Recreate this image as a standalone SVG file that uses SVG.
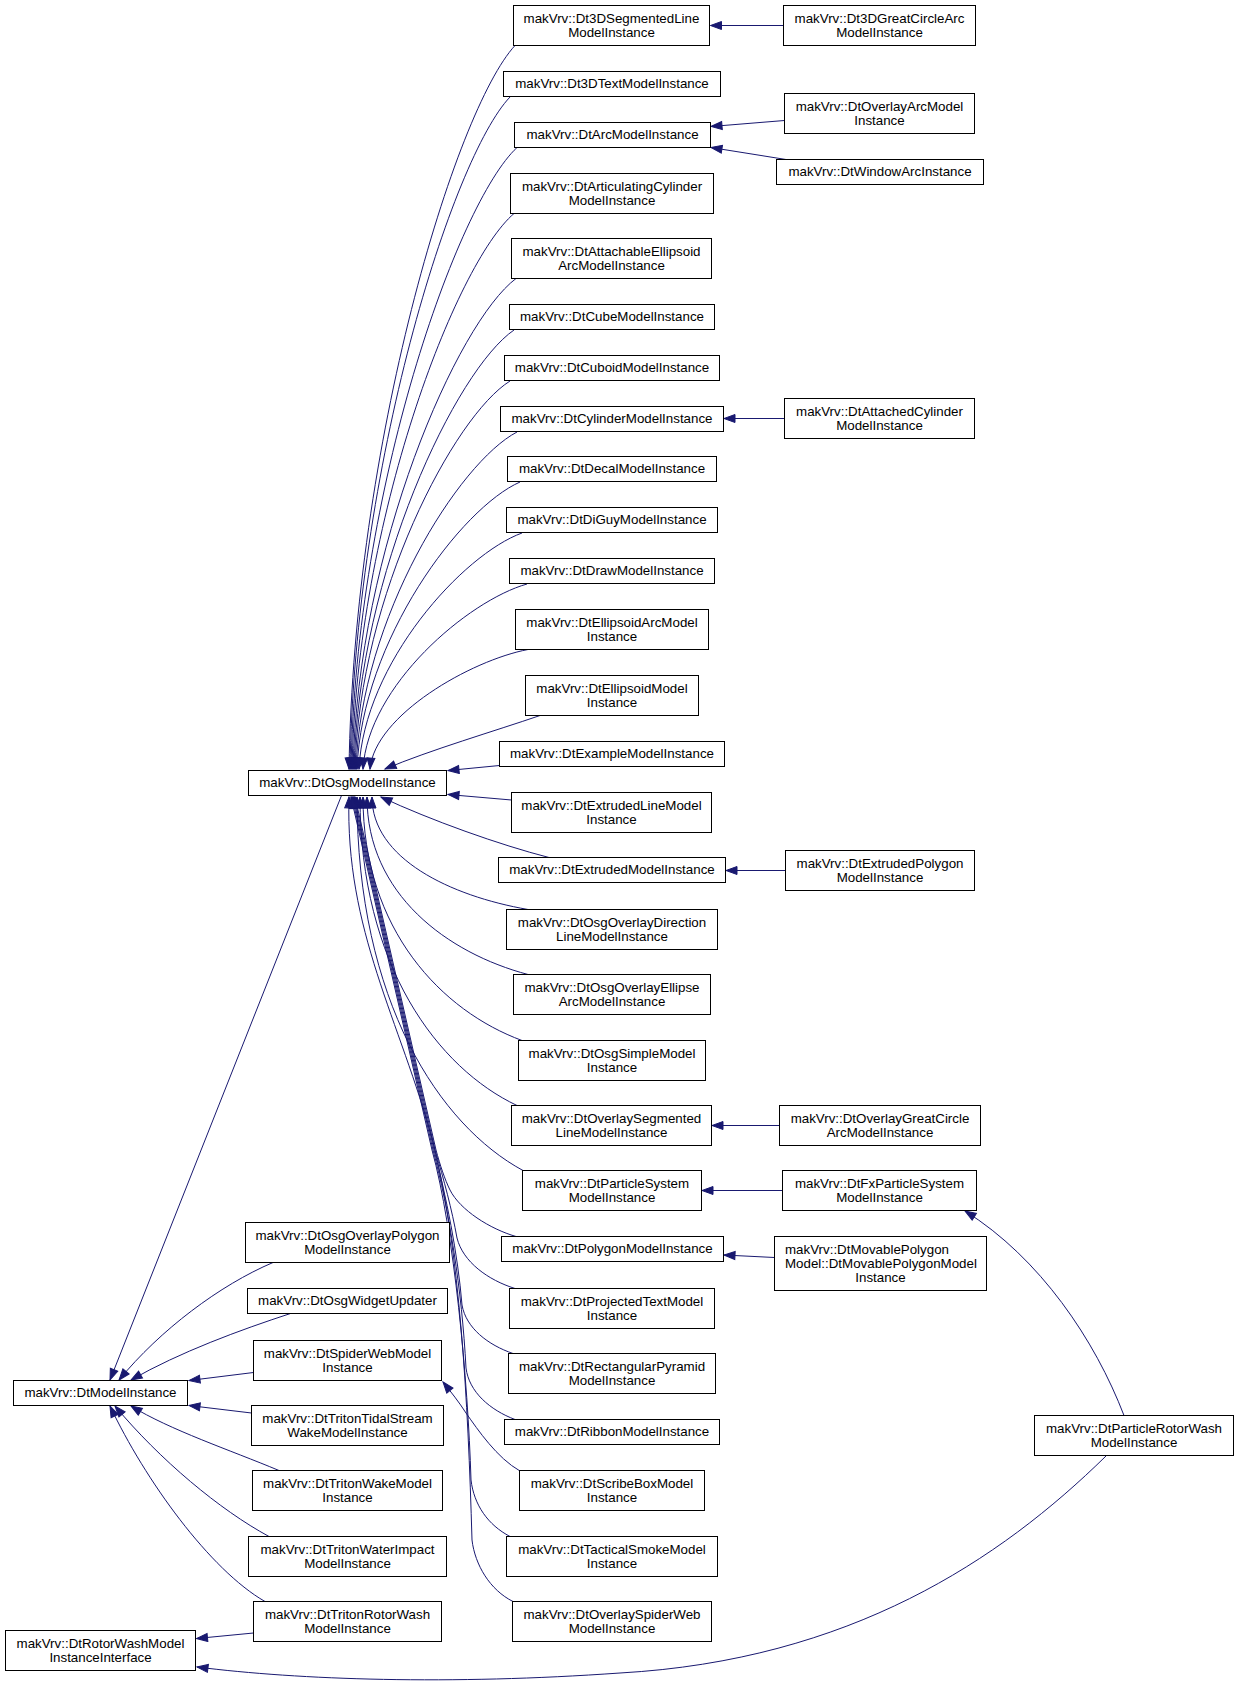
<svg xmlns="http://www.w3.org/2000/svg" width="1237" height="1689" viewBox="0 0 1237 1689">
<defs>
<style>
.node rect{fill:#fff;stroke:#000;stroke-width:1}
.node text{font-family:"Liberation Sans",Arial,sans-serif;font-size:13.33px;text-anchor:middle;fill:#000}
.node text.l{text-anchor:start}
.edges path{fill:none;stroke:#191970;stroke-width:1;marker-end:url(#arr)}
</style>
<marker id="arr" markerUnits="userSpaceOnUse" markerWidth="14" markerHeight="10" refX="11" refY="4" orient="auto" overflow="visible">
<path d="M0,0 L11,4 L0,8 z" fill="#191970" stroke="#191970" stroke-width="1"/>
</marker>
</defs>
<rect x="0" y="0" width="1237" height="1689" fill="#fff"/>
<g class="edges">
<path d="M515,45.5 C455.2,110.6 354,443.4 349,769"/>
<path d="M510,97 C452.4,157.5 354.8,466.6 350,769"/>
<path d="M517,147.5 C457.2,203.4 356,489.3 351,769"/>
<path d="M514,213.5 C455.7,263.5 356.9,519 352,769"/>
<path d="M516,278.5 C457.3,322.6 357.9,548.3 353,769"/>
<path d="M514,330 C456.4,369.5 358.8,571.5 354,769"/>
<path d="M510,381 C454.2,415.9 359.7,594.4 355,769"/>
<path d="M517,432 C459,462.3 360.8,617.4 356,769"/>
<path d="M520,482 C461.3,507.8 361.9,639.9 357,769"/>
<path d="M522,533 C463.3,554.2 363.9,662.8 359,769"/>
<path d="M527,584 C468,600.7 367.9,685.8 363,769"/>
<path d="M528,649.5 C471.1,660.3 374.7,715.2 370,769"/>
<path d="M540,715.5 C495,731 430,750 385,769"/>
<path d="M499.5,765.5 L448,770.5"/>
<path d="M511.5,800 L448,794.5"/>
<path d="M549,857.5 C500,845 430,820 381,797"/>
<path d="M528,909.5 C450,895.9 372,858.4 372,797"/>
<path d="M528,974.5 C447.5,953.1 367,894.2 367,797"/>
<path d="M522,1040.5 C442.5,1011.2 363,930.5 363,797"/>
<path d="M517,1105.5 C438.5,1068.4 360,966.2 360,797"/>
<path d="M523,1170.5 C440,1125.6 357,1002 357,797"/>
<path d="M516,1236.5 C490,1229 460,1210 450,1190 C445,1180 440,1165 436,1150 L355,797"/>
<path d="M515,1288.5 C488,1280 463,1262 457,1238 C452,1210 444,1180 435,1150 L354,797"/>
<path d="M513,1353.5 C488,1345 466,1328 462,1305 C458,1255 446,1195 434,1150 L353,797"/>
<path d="M515,1419.5 C490,1410 469,1392 466,1368 C462,1290 449,1210 433,1150 L352,797"/>
<path d="M510,1536.5 C488,1525 474,1505 471,1480 C468,1380 454,1230 432,1150 L351,797"/>
<path d="M513,1601.5 C490,1590 475,1565 472,1540 C468,1400 460,1250 433,1142 C400,1020 345,930 349,797"/>
<path d="M520,1471 C497,1458 478,1430 466,1413 C459,1402 451,1392 443,1382"/>
<path d="M341.5,795.5 L110,1380"/>
<path d="M273,1262.5 C220,1285 160,1330 119,1380"/>
<path d="M290.5,1313.5 C240,1330 180,1352 131,1380"/>
<path d="M253.5,1372.5 L189,1380.5"/>
<path d="M251.5,1413 L189,1405.5"/>
<path d="M279,1470.5 C230,1450 170,1430 131,1406"/>
<path d="M269,1536.5 C220,1510 160,1460 115,1406"/>
<path d="M265,1601.5 C210,1570 145,1480 110,1406"/>
<path d="M253.5,1633 L196.5,1638.5"/>
<path d="M783.5,25.5 L710.5,25.5"/>
<path d="M784.5,120.5 L711,126.5"/>
<path d="M786,159.5 L711,147.5"/>
<path d="M784.5,418.5 L724,418.5"/>
<path d="M785.5,870.5 L726,870.5"/>
<path d="M779.5,1125.5 L712,1125.5"/>
<path d="M782.5,1190.5 L702,1190.5"/>
<path d="M774.5,1257.5 L724,1255"/>
<path d="M1124,1415.5 C1095,1340 1040,1258 965,1211"/>
<path d="M1106,1456 C1000,1560 850,1660 620,1673 C450,1685 300,1680 197,1667"/>
</g>
<g id="n3DSeg" class="node"><rect x="513.5" y="5.5" width="196" height="40"/><text x="611.5" y="22.5">makVrv::Dt3DSegmentedLine</text><text x="611.5" y="36.5">ModelInstance</text></g>
<g id="n3DGreat" class="node"><rect x="783.5" y="5.5" width="192" height="40"/><text x="879.5" y="22.5">makVrv::Dt3DGreatCircleArc</text><text x="879.5" y="36.5">ModelInstance</text></g>
<g id="n3DText" class="node"><rect x="503.5" y="71.5" width="217" height="25"/><text x="612" y="88">makVrv::Dt3DTextModelInstance</text></g>
<g id="nArc" class="node"><rect x="514.5" y="122.5" width="196" height="25"/><text x="612.5" y="139">makVrv::DtArcModelInstance</text></g>
<g id="nOverlayArc" class="node"><rect x="784.5" y="93.5" width="190" height="40"/><text x="879.5" y="110.5">makVrv::DtOverlayArcModel</text><text x="879.5" y="124.5">Instance</text></g>
<g id="nWindowArc" class="node"><rect x="776.5" y="159.5" width="207" height="25"/><text x="880" y="176">makVrv::DtWindowArcInstance</text></g>
<g id="nArticulating" class="node"><rect x="510.5" y="173.5" width="203" height="40"/><text x="612" y="190.5">makVrv::DtArticulatingCylinder</text><text x="612" y="204.5">ModelInstance</text></g>
<g id="nAttachable" class="node"><rect x="511.5" y="238.5" width="200" height="40"/><text x="611.5" y="255.5">makVrv::DtAttachableEllipsoid</text><text x="611.5" y="269.5">ArcModelInstance</text></g>
<g id="nCube" class="node"><rect x="509.5" y="304.5" width="205" height="25"/><text x="612" y="321">makVrv::DtCubeModelInstance</text></g>
<g id="nCuboid" class="node"><rect x="504.5" y="355.5" width="215" height="25"/><text x="612" y="372">makVrv::DtCuboidModelInstance</text></g>
<g id="nCylinder" class="node"><rect x="500.5" y="406.5" width="223" height="25"/><text x="612" y="423">makVrv::DtCylinderModelInstance</text></g>
<g id="nAttachedCyl" class="node"><rect x="784.5" y="398.5" width="190" height="40"/><text x="879.5" y="415.5">makVrv::DtAttachedCylinder</text><text x="879.5" y="429.5">ModelInstance</text></g>
<g id="nDecal" class="node"><rect x="507.5" y="456.5" width="209" height="25"/><text x="612" y="473">makVrv::DtDecalModelInstance</text></g>
<g id="nDiGuy" class="node"><rect x="506.5" y="507.5" width="211" height="25"/><text x="612" y="524">makVrv::DtDiGuyModelInstance</text></g>
<g id="nDraw" class="node"><rect x="509.5" y="558.5" width="205" height="25"/><text x="612" y="575">makVrv::DtDrawModelInstance</text></g>
<g id="nEllArc" class="node"><rect x="515.5" y="609.5" width="193" height="40"/><text x="612" y="626.5">makVrv::DtEllipsoidArcModel</text><text x="612" y="640.5">Instance</text></g>
<g id="nEllModel" class="node"><rect x="525.5" y="675.5" width="173" height="40"/><text x="612" y="692.5">makVrv::DtEllipsoidModel</text><text x="612" y="706.5">Instance</text></g>
<g id="nExample" class="node"><rect x="499.5" y="741.5" width="225" height="25"/><text x="612" y="758">makVrv::DtExampleModelInstance</text></g>
<g id="nOsg" class="node"><rect x="248.5" y="770.5" width="198" height="25"/><text x="347.5" y="787">makVrv::DtOsgModelInstance</text></g>
<g id="nExtrudedLine" class="node"><rect x="511.5" y="792.5" width="200" height="40"/><text x="611.5" y="809.5">makVrv::DtExtrudedLineModel</text><text x="611.5" y="823.5">Instance</text></g>
<g id="nExtruded" class="node"><rect x="498.5" y="857.5" width="227" height="25"/><text x="612" y="874">makVrv::DtExtrudedModelInstance</text></g>
<g id="nExtrudedPoly" class="node"><rect x="785.5" y="850.5" width="189" height="40"/><text x="880" y="867.5">makVrv::DtExtrudedPolygon</text><text x="880" y="881.5">ModelInstance</text></g>
<g id="nOsgDir" class="node"><rect x="506.5" y="909.5" width="211" height="40"/><text x="612" y="926.5">makVrv::DtOsgOverlayDirection</text><text x="612" y="940.5">LineModelInstance</text></g>
<g id="nOsgEll" class="node"><rect x="513.5" y="974.5" width="197" height="40"/><text x="612" y="991.5">makVrv::DtOsgOverlayEllipse</text><text x="612" y="1005.5">ArcModelInstance</text></g>
<g id="nOsgSimple" class="node"><rect x="518.5" y="1040.5" width="187" height="40"/><text x="612" y="1057.5">makVrv::DtOsgSimpleModel</text><text x="612" y="1071.5">Instance</text></g>
<g id="nOverlaySeg" class="node"><rect x="511.5" y="1105.5" width="200" height="40"/><text x="611.5" y="1122.5">makVrv::DtOverlaySegmented</text><text x="611.5" y="1136.5">LineModelInstance</text></g>
<g id="nOverlayGreat" class="node"><rect x="779.5" y="1105.5" width="201" height="40"/><text x="880" y="1122.5">makVrv::DtOverlayGreatCircle</text><text x="880" y="1136.5">ArcModelInstance</text></g>
<g id="nParticleSys" class="node"><rect x="522.5" y="1170.5" width="179" height="40"/><text x="612" y="1187.5">makVrv::DtParticleSystem</text><text x="612" y="1201.5">ModelInstance</text></g>
<g id="nFxParticle" class="node"><rect x="782.5" y="1170.5" width="194" height="40"/><text x="879.5" y="1187.5">makVrv::DtFxParticleSystem</text><text x="879.5" y="1201.5">ModelInstance</text></g>
<g id="nPolygon" class="node"><rect x="501.5" y="1236.5" width="222" height="25"/><text x="612.5" y="1253">makVrv::DtPolygonModelInstance</text></g>
<g id="nMovable" class="node"><rect x="774.5" y="1236.5" width="212" height="54"/><text class="l" x="785" y="1253.5">makVrv::DtMovablePolygon</text><text class="l" x="785" y="1267.5">Model::DtMovablePolygonModel</text><text x="880.5" y="1281.5">Instance</text></g>
<g id="nOsgOverlayPoly" class="node"><rect x="245.5" y="1222.5" width="204" height="40"/><text x="347.5" y="1239.5">makVrv::DtOsgOverlayPolygon</text><text x="347.5" y="1253.5">ModelInstance</text></g>
<g id="nWidget" class="node"><rect x="247.5" y="1288.5" width="200" height="25"/><text x="347.5" y="1305">makVrv::DtOsgWidgetUpdater</text></g>
<g id="nSpider" class="node"><rect x="253.5" y="1340.5" width="188" height="40"/><text x="347.5" y="1357.5">makVrv::DtSpiderWebModel</text><text x="347.5" y="1371.5">Instance</text></g>
<g id="nModel" class="node"><rect x="13.5" y="1380.5" width="174" height="25"/><text x="100.5" y="1397">makVrv::DtModelInstance</text></g>
<g id="nTidal" class="node"><rect x="251.5" y="1405.5" width="192" height="40"/><text x="347.5" y="1422.5">makVrv::DtTritonTidalStream</text><text x="347.5" y="1436.5">WakeModelInstance</text></g>
<g id="nWake" class="node"><rect x="252.5" y="1470.5" width="190" height="40"/><text x="347.5" y="1487.5">makVrv::DtTritonWakeModel</text><text x="347.5" y="1501.5">Instance</text></g>
<g id="nImpact" class="node"><rect x="248.5" y="1536.5" width="198" height="40"/><text x="347.5" y="1553.5">makVrv::DtTritonWaterImpact</text><text x="347.5" y="1567.5">ModelInstance</text></g>
<g id="nTritonRotor" class="node"><rect x="253.5" y="1601.5" width="188" height="40"/><text x="347.5" y="1618.5">makVrv::DtTritonRotorWash</text><text x="347.5" y="1632.5">ModelInstance</text></g>
<g id="nRotorIface" class="node"><rect x="5.5" y="1630.5" width="190" height="40"/><text x="100.5" y="1647.5">makVrv::DtRotorWashModel</text><text x="100.5" y="1661.5">InstanceInterface</text></g>
<g id="nProjText" class="node"><rect x="509.5" y="1288.5" width="205" height="40"/><text x="612" y="1305.5">makVrv::DtProjectedTextModel</text><text x="612" y="1319.5">Instance</text></g>
<g id="nRectPyr" class="node"><rect x="508.5" y="1353.5" width="207" height="40"/><text x="612" y="1370.5">makVrv::DtRectangularPyramid</text><text x="612" y="1384.5">ModelInstance</text></g>
<g id="nRibbon" class="node"><rect x="504.5" y="1419.5" width="215" height="25"/><text x="612" y="1436">makVrv::DtRibbonModelInstance</text></g>
<g id="nScribe" class="node"><rect x="519.5" y="1470.5" width="185" height="40"/><text x="612" y="1487.5">makVrv::DtScribeBoxModel</text><text x="612" y="1501.5">Instance</text></g>
<g id="nTactical" class="node"><rect x="506.5" y="1536.5" width="211" height="40"/><text x="612" y="1553.5">makVrv::DtTacticalSmokeModel</text><text x="612" y="1567.5">Instance</text></g>
<g id="nOverlaySpider" class="node"><rect x="512.5" y="1601.5" width="199" height="40"/><text x="612" y="1618.5">makVrv::DtOverlaySpiderWeb</text><text x="612" y="1632.5">ModelInstance</text></g>
<g id="nParticleRotor" class="node"><rect x="1034.5" y="1415.5" width="199" height="40"/><text x="1134" y="1432.5">makVrv::DtParticleRotorWash</text><text x="1134" y="1446.5">ModelInstance</text></g>
</svg>
